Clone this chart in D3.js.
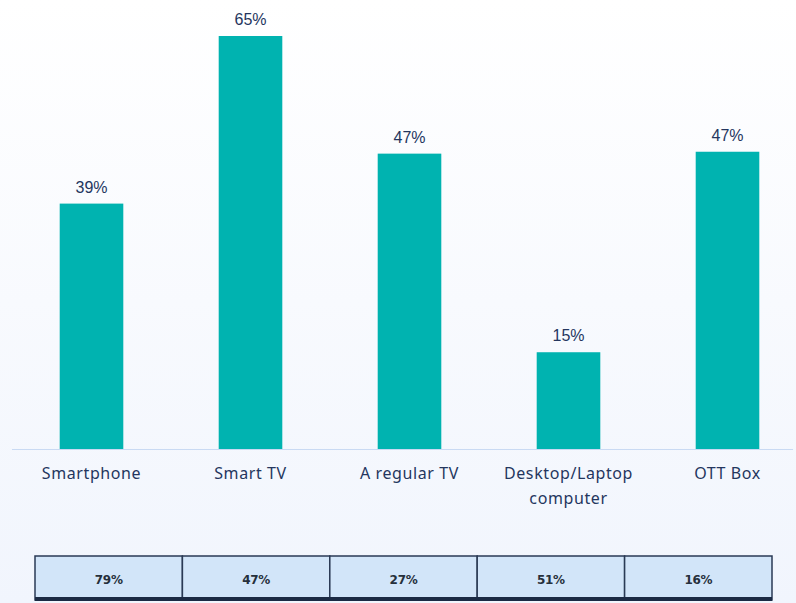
<!DOCTYPE html>
<html>
<head>
<meta charset="utf-8">
<script src="https://cdn.jsdelivr.net/npm/d3@7"></script>
<style>
  html, body { margin: 0; padding: 0; }
  body { width: 796px; height: 603px; overflow: hidden; }
</style>
</head>
<body>
<svg id="chart" width="796" height="603"></svg>
<script>
// Chart data
const categories = ["Smartphone", "Smart TV", "A regular TV", "Desktop/Laptop computer", "OTT Box"];
const shares = [38.8, 65.3, 46.7, 15.3, 47.0];
const tableValues = ["79%", "47%", "27%", "51%", "16%"];

const labelLines = {
  "Desktop/Laptop computer": ["Desktop/Laptop", "computer"]
};

let width = 796,
  height = 603,
  baseY = 449,
  topY = 36,
  barFill = "#00b3b0",
  textFill = "#24365e",
  axisStroke = "#c9daf3";

const svg = d3.select("#chart");

// Background gradient
const defs = svg.append("defs");
const grad = defs.append("linearGradient")
  .attr("id", "bg")
  .attr("x1", 0).attr("y1", 0).attr("x2", 0).attr("y2", 1);
grad.append("stop").attr("offset", "0%").attr("stop-color", "#ffffff");
grad.append("stop").attr("offset", "100%").attr("stop-color", "#f1f5fd");

svg.append("rect")
  .attr("width", width)
  .attr("height", height)
  .attr("fill", "url(#bg)");

// Scales
const xScale = d3.scaleBand()
  .domain(categories)
  .range([12, 807])
  .paddingInner(0.6)
  .paddingOuter(0.3);

const yScale = d3.scaleLinear()
  .domain([0, 65.3])
  .range([baseY, topY]);

// Bars
svg.append("g")
  .selectAll("rect")
  .data(categories)
  .join("rect")
  .attr("x", d => xScale(d))
  .attr("y", (d, i) => yScale(shares[i]))
  .attr("width", xScale.bandwidth())
  .attr("height", (d, i) => baseY - yScale(shares[i]))
  .attr("fill", barFill);

// Value labels
svg.append("g")
  .selectAll("text")
  .data(categories)
  .join("text")
  .attr("x", d => xScale(d) + xScale.bandwidth() / 2)
  .attr("y", (d, i) => yScale(shares[i]) - 11)
  .attr("text-anchor", "middle")
  .attr("font-family", "Liberation Sans, Arial, sans-serif")
  .attr("font-size", 16)
  .attr("fill", textFill)
  .text((d, i) => Math.round(shares[i]) + "%");

// Baseline
svg.append("line")
  .attr("x1", 12)
  .attr("x2", 793)
  .attr("y1", baseY + 0.5)
  .attr("y2", baseY + 0.5)
  .attr("stroke", axisStroke)
  .attr("stroke-width", 1);

// Category labels
const catText = svg.append("g")
  .selectAll("text")
  .data(categories)
  .join("text")
  .attr("text-anchor", "middle")
  .attr("font-family", "Noto Sans, sans-serif")
  .attr("font-size", 16)
  .attr("letter-spacing", 0.6)
  .attr("fill", textFill);

catText.each(function (d) {
  const lines = labelLines[d] || [d];
  const cx = xScale(d) + xScale.bandwidth() / 2;
  d3.select(this)
    .selectAll("tspan")
    .data(lines)
    .join("tspan")
    .attr("x", cx)
    .attr("y", (l, j) => 479 + j * 25)
    .text(l => l);
});

// Bottom table
let tableLeft = 35,
  tableRight = 772,
  tableTop = 556,
  tableBottom = 600;

const cellX = d3.scaleBand()
  .domain(d3.range(tableValues.length))
  .range([tableLeft, tableRight]);

const cells = svg.append("g");

cells.selectAll("rect")
  .data(tableValues)
  .join("rect")
  .attr("x", (d, i) => cellX(i))
  .attr("y", tableTop)
  .attr("width", cellX.bandwidth())
  .attr("height", tableBottom - tableTop)
  .attr("fill", "#d2e5f9")
  .attr("stroke", "#2a3a55")
  .attr("stroke-width", 1.5);

cells.selectAll("text")
  .data(tableValues)
  .join("text")
  .attr("x", (d, i) => cellX(i) + cellX.bandwidth() / 2)
  .attr("y", 584)
  .attr("text-anchor", "middle")
  .attr("font-family", "DejaVu Sans, sans-serif")
  .attr("font-weight", "bold")
  .attr("font-size", 12)
  .attr("letter-spacing", -0.3)
  .attr("fill", "#26303c")
  .text(d => d);

// Thick dark edge along the bottom of the table
svg.append("rect")
  .attr("x", tableLeft)
  .attr("y", tableBottom - 3)
  .attr("width", tableRight - tableLeft)
  .attr("height", 4)
  .attr("fill", "#1b2a44");
</script>
</body>
</html>
